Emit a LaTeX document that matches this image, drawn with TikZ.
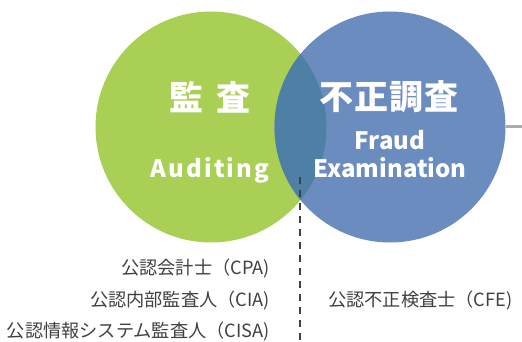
\documentclass[tikz,border=0pt]{standalone}
\usepackage{fontspec}
\setmainfont{Noto Sans CJK JP}
\usetikzlibrary{positioning}
\definecolor{audgreen}{RGB}{169,207,84}
\definecolor{fraudblue}{RGB}{106,140,191}
\definecolor{overlapblue}{RGB}{78,128,166}
\definecolor{certgray}{RGB}{64,64,64}
\tikzset{
  ring/.style={circle, inner sep=0pt, minimum size=231pt},
  titletext/.style={text=white, font=\bfseries\fontsize{34}{38}\selectfont},
  subtext/.style={text=white, align=center, font=\bfseries\fontsize{24}{28}\selectfont},
  certtext/.style={text=certgray, inner sep=0pt, font=\fontsize{18.2}{21}\selectfont},
}

\begin{document}
\begin{tikzpicture}[x=1pt,y=-1pt]
\useasboundingbox (0,0) rectangle (522,342);
% circles
\node[ring, fill=audgreen] (audit) at (211,127) {};
\node[ring, fill=fraudblue] (fraud) at (390,127) {};
\begin{scope}
\clip (audit.center) circle (115.5);
\fill[overlapblue] (fraud.center) circle (115.5);
\end{scope}
\coordinate (rightend) at (522,127);
\draw[gray!65, line width=3pt] (fraud.east) -- (rightend);
% dividing line
\coordinate (divtop) at (300,177);
\coordinate (divbot) at (300,342);
\draw[certgray, line width=1.3pt, dash pattern=on 7pt off 6pt] (divtop) -- (divbot);
% titles
\node[titletext] (kansa) at (210,97) {監\hspace{0.4em}査};
\node[titletext] (fusei) at (389,97) {\addfontfeature{LetterSpace=3}不正調査};
\node[subtext] (auditing) at (210,170) {\addfontfeature{LetterSpace=9}Auditing};
\node[subtext] (fraudexam) at (390,154) {Fraud\\Examination};
% certificates
\node[certtext, anchor=east] (cpa) at (270,268) {公認会計士（CPA)};
\node[certtext, anchor=east] (cia) at (270,300) {公認内部監査人（CIA)};
\node[certtext, anchor=east] (cisa) at (270,331) {公認情報システム監査人（CISA)};
\node[certtext, anchor=west] (cfe) at (328,300) {公認不正検査士（CFE)};
\end{tikzpicture}
\end{document}
